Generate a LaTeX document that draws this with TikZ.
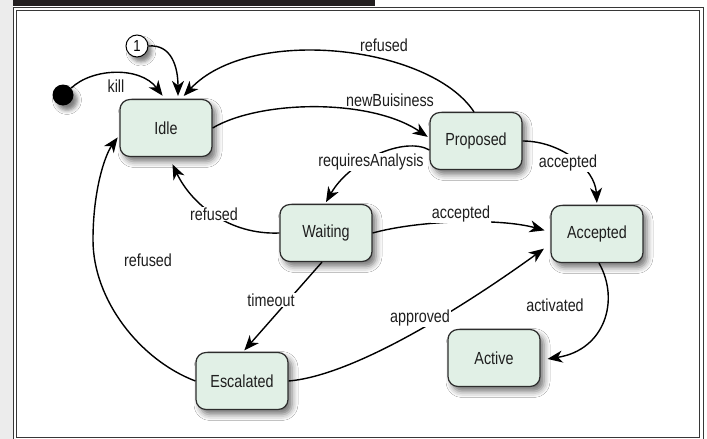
\documentclass[tikz,border=0pt]{standalone}
\usepackage{fontspec}
\setmainfont{Liberation Sans}[FakeStretch=0.82]
\usetikzlibrary{arrows.meta,shadows.blur}
\definecolor{statefill}{RGB}{225,240,230}
\definecolor{stateline}{RGB}{45,45,45}
\definecolor{headbar}{RGB}{35,31,32}
\definecolor{pagegray}{RGB}{236,236,236}
\definecolor{framecol}{RGB}{55,55,55}
\definecolor{txt}{RGB}{30,30,30}
\begin{document}
\begin{tikzpicture}[x=1pt,y=-1pt,
  state/.style={draw=stateline, line width=1.2pt, fill=statefill, rounded corners=10pt,
    minimum width=92pt, minimum height=57pt, inner sep=0pt,
    font=\fontsize{17.5}{19}\selectfont, text=txt,
    blur shadow={shadow xshift=4pt, shadow yshift=-5pt, shadow blur radius=6pt, shadow opacity=55}},
  lbl/.style={fill=white, inner sep=1pt, font=\fontsize{17.5}{19}\selectfont, text=txt},
  conn/.style={line width=1.4pt, -{Stealth[length=15pt,width=12pt,inset=4.5pt]}},
]
\useasboundingbox (0,0) rectangle (707,439);
\clip (0,0) rectangle (707,439);
% page background and frame
\fill[pagegray] (0,0) rectangle (12.5,439);
\fill[white] (12.5,0) rectangle (707,439);
\fill[headbar] (12.5,0) rectangle (375,5.5);
\draw[framecol, line width=1.6pt] (13.3,7.5) rectangle (703.3,445);
\draw[framecol, line width=1.2pt] (16.2,10.2) rectangle (699.6,437.6);

% states
\node[state] (idle) at (166,128) {Idle};
\node[state] (proposed) at (476,141) {Proposed};
\node[state] (waiting) at (326,233) {Waiting};
\node[state] (accepted) at (597,234) {Accepted};
\node[state] (escalated) at (242,381) {Escalated};
\node[state] (active) at (494,358) {Active};
\node[circle, fill=black, minimum size=21pt, inner sep=0pt,
  blur shadow={shadow xshift=4pt, shadow yshift=-5pt, shadow blur radius=4pt, shadow opacity=50}] (init) at (63,95) {};
\node[circle, draw=black, line width=1pt, fill=white, minimum size=22pt, inner sep=0pt,
  font=\fontsize{16}{17}\selectfont,
  blur shadow={shadow xshift=4pt, shadow yshift=-5pt, shadow blur radius=4pt, shadow opacity=50}] (one) at (137,46) {1};
\coordinate (rwp) at (93,240);

% connectors
\draw[conn, shorten >=4pt] (init.40) .. controls (92,68) and (140,66) .. ([xshift=-1pt]idle.north);
\draw[conn, shorten >=3pt] (one.east) .. controls (172,44) and (178,68) .. ([xshift=12pt]idle.north);
\draw[conn, shorten >=4pt] ([xshift=-2pt]proposed.north) .. controls (430,45) and (250,25) .. ([xshift=15pt]idle.north);
\draw[conn, shorten >=2pt] (idle.east) .. controls (260,100) and (370,98) .. ([yshift=3pt]proposed.west);
\draw[conn, shorten >=2pt] ([yshift=-9pt]proposed.west) .. controls (405,136) and (350,160) .. ([xshift=-1pt]waiting.north);
\draw[conn, shorten >=2pt] (proposed.east) .. controls (560,141) and (595,168) .. (accepted.north);
\draw[conn, shorten >=8pt] (waiting.west) .. controls (230,235) and (192,205) .. ([xshift=3pt]idle.south);
\draw[conn, shorten >=6pt] (waiting.east) .. controls (420,220) and (500,218) .. ([yshift=2pt]accepted.west);
\draw[conn, shorten >=2pt] ([xshift=-4pt]waiting.south) -- ([xshift=1pt]escalated.north);
\draw[conn, shorten >=3pt] (escalated.west) .. controls (140,360) and (93,300) .. (rwp)
  .. controls (93,190) and (105,155) .. ([yshift=-7pt]idle.west);
\draw[conn, shorten >=8pt] (escalated.east) .. controls (360,375) and (480,295) .. ([yshift=-10pt]accepted.west);
\draw[conn, shorten >=7pt] ([xshift=2pt]accepted.south) .. controls (620,300) and (605,350) .. ([yshift=-2pt]active.east);

% labels
\node[lbl] (lkill) at (116,86) {kill};
\node[lbl] (lref1) at (384,45) {refused};
\node[lbl] (lnew) at (390,100) {newBuisiness};
\node[lbl] (lreq) at (371,162) {requiresAnalysis};
\node[lbl] (lacc1) at (568,163) {accepted};
\node[lbl] (lref2) at (214,214) {refused};
\node[lbl] (lacc2) at (461,214) {accepted};
\node[lbl] (lref3) at (148,260) {refused};
\node[lbl] (ltime) at (271,300) {timeout};
\node[lbl] (lappr) at (420,318) {approved};
\node[lbl] (lact) at (555,305) {activated};
\end{tikzpicture}
\end{document}
